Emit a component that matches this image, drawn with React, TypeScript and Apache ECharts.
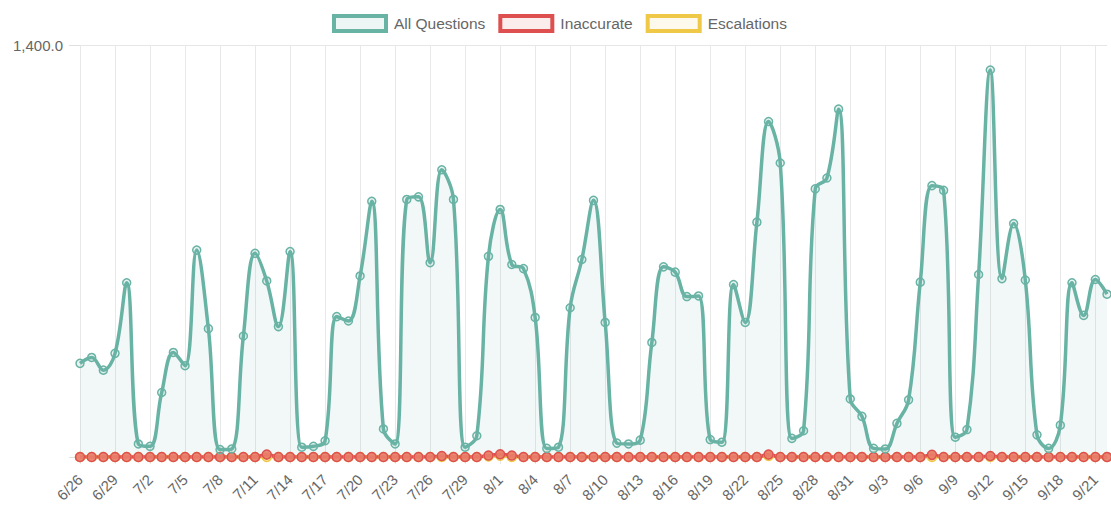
import React, { useEffect, useRef } from 'react';
import * as echarts from 'echarts';

const dates = [
  '6/26', '6/27', '6/28', '6/29', '6/30',
  '7/1', '7/2', '7/3', '7/4', '7/5', '7/6', '7/7', '7/8', '7/9', '7/10',
  '7/11', '7/12', '7/13', '7/14', '7/15', '7/16', '7/17', '7/18', '7/19', '7/20',
  '7/21', '7/22', '7/23', '7/24', '7/25', '7/26', '7/27', '7/28', '7/29', '7/30', '7/31',
  '8/1', '8/2', '8/3', '8/4', '8/5', '8/6', '8/7', '8/8', '8/9', '8/10',
  '8/11', '8/12', '8/13', '8/14', '8/15', '8/16', '8/17', '8/18', '8/19', '8/20',
  '8/21', '8/22', '8/23', '8/24', '8/25', '8/26', '8/27', '8/28', '8/29', '8/30', '8/31',
  '9/1', '9/2', '9/3', '9/4', '9/5', '9/6', '9/7', '9/8', '9/9', '9/10',
  '9/11', '9/12', '9/13', '9/14', '9/15', '9/16', '9/17', '9/18', '9/19', '9/20',
  '9/21', '9/22',
];

const allQuestions = [
  318, 338, 295, 352, 592,
  44, 36, 219, 355, 310, 703, 436, 25, 27, 411,
  692, 598, 443, 698, 33, 36, 55, 477, 462, 615,
  869, 95, 44, 875, 884, 660, 976, 875, 33, 72, 682,
  841, 654, 640, 474, 29, 33, 507, 671, 872, 457,
  47, 44, 57, 389, 646, 628, 545, 547, 59, 50,
  586, 457, 798, 1140, 999, 63, 89, 911, 948, 1182, 197,
  138, 29, 27, 114, 194, 594, 922, 906, 67, 93,
  620, 1315, 606, 793, 601, 75, 29, 108, 592, 481,
  603, 553,
];

const inaccurate = [
  0, 0, 0, 0, 0,
  0, 0, 0, 0, 0, 0, 0, 0, 0, 0,
  0, 8, 0, 0, 0, 0, 0, 0, 0, 0,
  0, 0, 0, 0, 0, 0, 3, 0, 0, 0, 5,
  9, 5, 0, 0, 0, 0, 0, 0, 0, 0,
  0, 0, 0, 0, 0, 0, 0, 0, 0, 0,
  0, 0, 0, 8, 0, 0, 0, 0, 0, 0, 0,
  0, 0, 0, 0, 0, 0, 7, 0, 0, 0,
  0, 3, 0, 0, 0, 0, 0, 0, 0, 0,
  0, 0,
];

const escalations = [
  0, 0, 0, 0, 0,
  0, 0, 0, 0, 0, 0, 0, 0, 0, 0,
  0, 0, 0, 0, 0, 0, 0, 0, 0, 0,
  0, 0, 0, 0, 0, 0, 0, 0, 0, 0, 2,
  4, 0, 0, 0, 0, 0, 0, 0, 0, 0,
  0, 0, 0, 0, 0, 0, 0, 0, 0, 0,
  0, 0, 0, 3, 0, 0, 0, 0, 0, 0, 0,
  0, 0, 0, 0, 0, 0, 0, 0, 0, 0,
  0, 0, 0, 0, 0, 0, 0, 0, 0, 0,
  0, 0,
];

const yTicks = [0, 1400];

const TEAL = '#69b3a5';
const RED = '#de5050';
const YELLOW = '#f0c848';
const FONT = 'Arial, "Liberation Sans", Helvetica, sans-serif';

export default function App() {
  const ref = useRef<HTMLDivElement>(null);
  useEffect(() => {
    const chart = echarts.init(ref.current as HTMLDivElement, null, { renderer: 'svg' });
    chart.setOption({
      animation: false,
      textStyle: { fontFamily: FONT },
      legend: {
        left: 332,
        top: 14,
        padding: 0,
        itemWidth: 52,
        itemHeight: 15,
        itemGap: 13,
        icon: 'rect',
        textStyle: { color: '#666', fontSize: 15.5, fontFamily: FONT, padding: [0, 0, 0, 3] },
        data: [
          { name: 'All Questions', itemStyle: { color: 'rgba(105,179,165,0.12)', borderColor: TEAL, borderWidth: 4 } },
          { name: 'Inaccurate', itemStyle: { color: 'rgba(222,80,80,0.1)', borderColor: RED, borderWidth: 4 } },
          { name: 'Escalations', itemStyle: { color: 'rgba(240,200,72,0.1)', borderColor: YELLOW, borderWidth: 4 } },
        ],
      },
      grid: { left: 80, right: 4, top: 45, bottom: 47 },
      xAxis: {
        type: 'category',
        boundaryGap: false,
        data: dates,
        axisLine: { show: true, lineStyle: { color: '#e0e0e0' } },
        axisTick: { show: true, interval: 2, length: 7, lineStyle: { color: '#e6e6e6' } },
        axisLabel: { interval: 2, rotate: 45, color: '#666', fontSize: 15, margin: 20, fontFamily: FONT },
        splitLine: { show: true, interval: 2, lineStyle: { color: '#e8e8e8', width: 1 } },
      },
      yAxis: {
        type: 'value',
        min: yTicks[0],
        max: yTicks[1],
        interval: 1400,
        axisLine: { show: false },
        axisTick: { show: true, length: 11, lineStyle: { color: '#e0e0e0' } },
        axisLabel: {
          color: '#666',
          fontSize: 15,
          margin: 17,
          fontFamily: FONT,
          formatter: (v: number) => (v === 0 ? '' : v.toLocaleString('en-US', { minimumFractionDigits: 1, maximumFractionDigits: 1 })),
        },
        splitLine: { show: true, lineStyle: { color: '#e6e6e6' } },
      },
      series: [
        {
          name: 'Escalations',
          type: 'line',
          data: escalations,
          smooth: 0.4,
          showAllSymbol: true,
          symbol: 'circle',
          symbolSize: 9,
          lineStyle: { color: YELLOW, width: 3.5 },
          itemStyle: { color: 'rgba(240,200,72,0.5)', borderColor: YELLOW, borderWidth: 1.5 },
        },
        {
          name: 'Inaccurate',
          type: 'line',
          data: inaccurate,
          smooth: 0.4,
          showAllSymbol: true,
          symbol: 'circle',
          symbolSize: 9,
          lineStyle: { color: RED, width: 3.5 },
          itemStyle: { color: 'rgba(232,120,108,0.85)', borderColor: RED, borderWidth: 1.5 },
        },
        {
          name: 'All Questions',
          type: 'line',
          data: allQuestions,
          smooth: 0.4,
          showAllSymbol: true,
          symbol: 'circle',
          symbolSize: 8,
          lineStyle: { color: TEAL, width: 3.5 },
          itemStyle: { color: 'rgba(105,179,165,0.15)', borderColor: TEAL, borderWidth: 1.5 },
          areaStyle: { color: 'rgba(100,170,175,0.12)' },
        },
      ],
    });
    return () => chart.dispose();
  }, []);
  return (
    <div
      ref={ref}
      style={{ position: 'fixed', left: 0, top: 0, width: 1111, height: 505, background: '#fff' }}
    />
  );
}
